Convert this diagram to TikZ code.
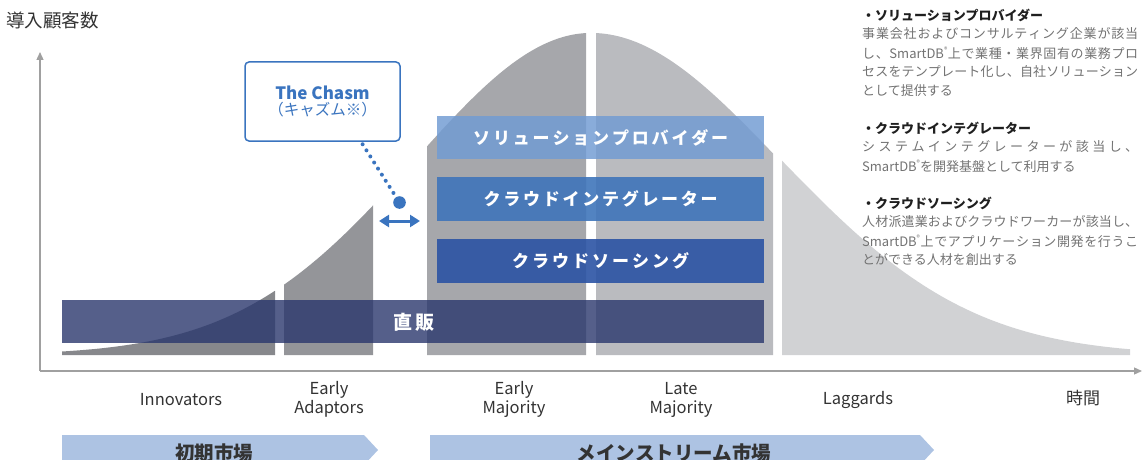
\documentclass[tikz,border=0pt]{standalone}
\usepackage{fontspec}
\setmainfont{Noto Sans CJK JP}
\usetikzlibrary{arrows.meta}
\definecolor{cInnov}{HTML}{87888C}
\definecolor{cEA}{HTML}{949599}
\definecolor{cEM}{HTML}{A6A7AB}
\definecolor{cLM}{HTML}{BABBBF}
\definecolor{cLag}{HTML}{D1D2D4}
\definecolor{cAxis}{HTML}{A0A0A0}
\definecolor{cSP}{RGB}{113,155,211}
\definecolor{cCI}{RGB}{63,117,186}
\definecolor{cCS}{RGB}{43,83,164}
\definecolor{cDS}{RGB}{42,55,109}
\definecolor{cChasm}{HTML}{3A74BF}
\definecolor{cMarket}{HTML}{ADC3E3}
\definecolor{cTxt}{HTML}{333333}
\definecolor{cBody}{HTML}{727272}
\makeatletter
\def\sp@end{\sp@end}
\def\spreadline#1#2{\hbox to #1{\sp@loop#2\sp@end\unskip}}
\def\sp@loop#1{\def\sp@arg{#1}\ifx\sp@arg\sp@end\else#1\hskip 0pt plus 1fil\expandafter\sp@loop\fi}
\makeatother
\newcommand\regmark{\raisebox{0.45em}{\fontsize{7}{7}\selectfont ®}}
\begin{document}
\begin{tikzpicture}[x=1pt,y=-1pt,
  bar/.style={fill opacity=#1, text opacity=1, text=white, inner sep=0pt, anchor=north west, font=\fontsize{17}{20}\bfseries\selectfont},
  phase/.style={text=cTxt, align=center, font=\fontsize{16.5}{19}\selectfont},
  market/.style={fill=cMarket},
  markettxt/.style={text=cTxt, font=\fontsize{19.5}{22}\bfseries\selectfont},
  head/.style={anchor=west, inner sep=0pt, text=black!88, font=\fontsize{13}{15}\bfseries\selectfont},
  body/.style={anchor=west, inner sep=0pt, text=cBody, font=\fontsize{13}{15}\selectfont},
  axis/.style={draw=cAxis, line width=1.3pt, -{Triangle[length=8pt,width=7pt]}}
]
\useasboundingbox (0,0) rectangle (1143,460);
\clip (0,0) rectangle (1143,460);

% bell curve segments
\fill[cInnov] (62,355) -- plot[domain=62:275,samples=40] (\x,{355-322*exp(-0.5*((\x-591)/176)*((\x-591)/176))}) -- (275,355) -- cycle;
\fill[cEA] (284,355) -- plot[domain=284:373,samples=30] (\x,{355-322*exp(-0.5*((\x-591)/176)*((\x-591)/176))}) -- (373,355) -- cycle;
\fill[cEM] (427,355) -- plot[domain=427:586,samples=40] (\x,{355-322*exp(-0.5*((\x-591)/176)*((\x-591)/176))}) -- (586,355) -- cycle;
\fill[cLM] (596,355) -- plot[domain=596:773,samples=40] (\x,{355-322*exp(-0.5*((\x-591)/188)*((\x-591)/188))}) -- (773,355) -- cycle;
\fill[cLag] (782,355) -- plot[domain=782:1130,samples=60] (\x,{355-322*exp(-0.5*((\x-591)/190)*((\x-591)/190))}) -- (1130,355) -- cycle;

% axes
\coordinate (origin) at (40,371);
\coordinate (ytop) at (40,52);
\coordinate (xend) at (1142,371);
\draw[axis] (origin) -- (ytop);
\draw[axis] (origin) -- (xend);
\node[anchor=west, inner sep=0pt, text=cTxt, font=\fontsize{18.5}{20}\selectfont] (ylabel) at (6,20) {導入顧客数};
\node[text=cTxt, font=\fontsize{17}{19}\selectfont] (xlabel) at (1083,398) {時間};

% bars
\node[bar=0.83, fill=cSP, minimum width=327pt, minimum height=43pt] (sp) at (437,116) {};
\node[text=white, font=\fontsize{17}{20}\bfseries\selectfont] (sptxt) at (sp.center) {\spreadline{255pt}{ソリューションプロバイダー}};
\node[bar=0.9, fill=cCI, minimum width=327pt, minimum height=44pt] (ci) at (437,177) {};
\node[text=white, font=\fontsize{17}{20}\bfseries\selectfont] (citxt) at (ci.center) {\spreadline{234pt}{クラウドインテグレーター}};
\node[bar=0.9, fill=cCS, minimum width=327pt, minimum height=44pt] (cs) at (437,239) {};
\node[text=white, font=\fontsize{17}{20}\bfseries\selectfont] (cstxt) at (cs.center) {\spreadline{177pt}{クラウドソーシング}};
\node[bar=0.8, fill=cDS, minimum width=702pt, minimum height=43pt] (ds) at (62,300) {};
\node[text=white, font=\fontsize{19}{22}\bfseries\selectfont] (dstxt) at (414,322) {\spreadline{42pt}{直販}};

% chasm
\node[draw=cChasm, line width=1.5pt, rounded corners=4pt, fill=white, minimum width=155pt, minimum height=79pt, align=center, text=cChasm] (chasm) at (322.5,101.5)
  {{\fontsize{17}{19}\bfseries\selectfont The Chasm}\\[2pt]{\fontsize{15.5}{17}\selectfont （キャズム※）}};
\coordinate (dotc) at (399.5,202.5);
\draw[cChasm, line width=4pt, line cap=round, dash pattern=on 0pt off 7.2pt, shorten <=3pt, shorten >=10pt] ([xshift=38.5pt]chasm.south) -- (dotc);
\fill[cChasm] (dotc) circle (6.3pt);
\coordinate (chL) at (379,221);
\coordinate (chR) at (420,221);
\draw[cChasm, line width=3pt, {Triangle[length=10pt,width=12pt]}-{Triangle[length=10pt,width=12pt]}] (chL) -- (chR);

% phase labels
\node[phase] (innov) at (181,400) {Innovators};
\node[phase] (ea) at (329,399.5) {Early\\Adaptors};
\node[phase] (em) at (514,399.5) {Early\\Majority};
\node[phase] (lm) at (681,399.5) {Late\\Majority};
\node[phase] (lag) at (858,400) {Laggards};

% market arrows
\fill[market] (62,435) -- (364,435) -- (378,450) -- (364,465) -- (62,465) -- cycle;
\node[markettxt] (early) at (214,453) {初期市場};
\fill[market] (430,435) -- (920,435) -- (934,450) -- (920,465) -- (430,465) -- cycle;
\node[markettxt] (main) at (674,453) {メインストリーム市場};

% right text
\node[head] (h1) at (862,15) {・ソリューションプロバイダー};
\node[body] (b11) at (862,34) {\spreadline{276pt}{事業会社およびコンサルティング企業が該当}};
\node[body] (b12) at (862,53) {\spreadline{276pt}{し、{SmartDB\regmark}上で業種・業界固有の業務プロ}};
\node[body] (b13) at (862,72) {\spreadline{276pt}{セスをテンプレート化し、自社ソリューション}};
\node[body] (b14) at (862,91) {として提供する};
\node[head] (h2) at (862,128) {・クラウドインテグレーター};
\node[body] (b21) at (862,147) {\spreadline{276pt}{システムインテグレーターが該当し、}};
\node[body] (b22) at (862,166) {SmartDB\regmark を開発基盤として利用する};
\node[head] (h3) at (862,203) {・クラウドソーシング};
\node[body] (b31) at (862,222) {\spreadline{276pt}{人材派遣業およびクラウドワーカーが該当し、}};
\node[body] (b32) at (862,241) {\spreadline{276pt}{{SmartDB\regmark}上でアプリケーション開発を行うこ}};
\node[body] (b33) at (862,260) {とができる人材を創出する};
\end{tikzpicture}
\end{document}
